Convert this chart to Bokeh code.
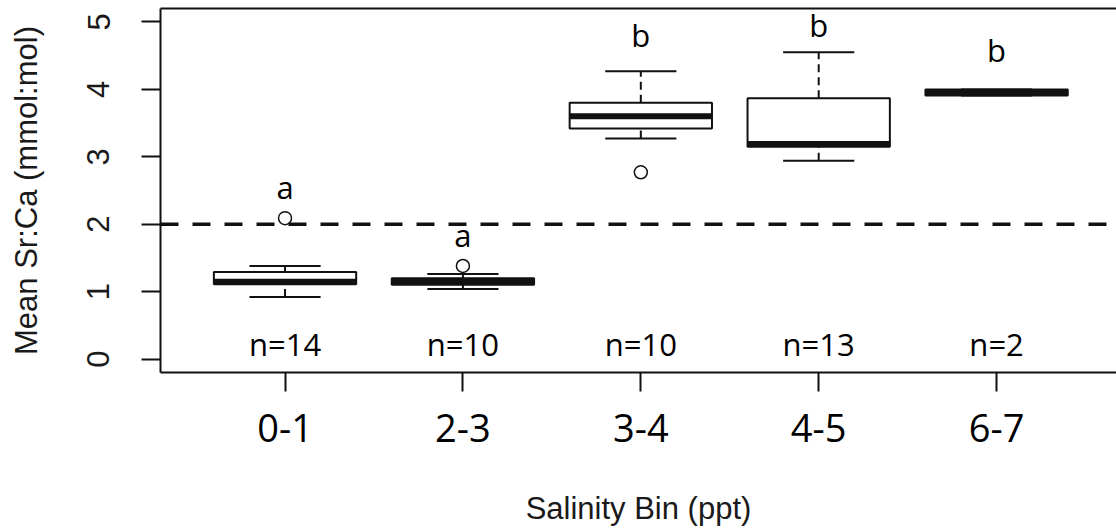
import math
from bokeh.plotting import figure
from bokeh.models import ColumnDataSource, Span, LinearAxis, FixedTicker
from bokeh.core.properties import value
from bokeh.embed import file_html
from bokeh.resources import INLINE

# ---- data ----
bins = ["0-1", "2-3", "3-4", "4-5", "6-7"]
xpos = [1, 2, 3, 4, 5]
lower_whisker = [0.92, 1.04, 3.27, 2.94, 3.91]
q1 = [1.11, 1.10, 3.42, 3.15, 3.91]
median = [1.145, 1.15, 3.60, 3.19, 3.955]
q3 = [1.29, 1.20, 3.80, 3.87, 4.00]
upper_whisker = [1.38, 1.26, 4.27, 4.55, 4.00]
outlier_x = [1, 2, 3]
outlier_y = [2.09, 1.38, 2.77]
n_labels = ["n=14", "n=10", "n=10", "n=13", "n=2"]
n_y = [0.22, 0.22, 0.22, 0.22, 0.22]
group_letters = ["a", "a", "b", "b", "b"]
letter_y = [2.55, 1.84, 4.80, 4.96, 4.58]
threshold = 2.0
y_ticks = [0, 1, 2, 3, 4, 5]

box_half = 0.4
cap_half = 0.2

src = ColumnDataSource(dict(
    x=xpos,
    left=[x - box_half for x in xpos],
    right=[x + box_half for x in xpos],
    cl=[x - cap_half for x in xpos],
    cr=[x + cap_half for x in xpos],
    lw=lower_whisker, q1=q1, med=median, q3=q3, uw=upper_whisker,
    nlab=n_labels, ny=n_y, let=group_letters, ly=letter_y,
))

p = figure(width=1116, height=529, output_backend="svg", toolbar_location=None,
           x_range=(0.3, 5.674), y_range=(-0.2, 5.2),
           min_border_left=160, min_border_right=0, min_border_top=8,
           min_border_bottom=157)
p.outline_line_color = None
p.xgrid.visible = False
p.ygrid.visible = False
p.background_fill_color = "white"
p.border_fill_color = "white"

LINE = "#111111"

# threshold line
p.add_layout(Span(location=threshold, dimension="width", line_color=LINE,
                  line_width=3.5, line_dash="18 14"))

# whiskers
p.segment(x0="x", y0="q3", x1="x", y1="uw", source=src, line_color=LINE,
          line_width=2, line_dash="8 5")
p.segment(x0="x", y0="lw", x1="x", y1="q1", source=src, line_color=LINE,
          line_width=2, line_dash="8 5")
# caps
p.segment(x0="cl", y0="uw", x1="cr", y1="uw", source=src, line_color=LINE, line_width=2)
p.segment(x0="cl", y0="lw", x1="cr", y1="lw", source=src, line_color=LINE, line_width=2)
# boxes
p.quad(left="left", right="right", bottom="q1", top="q3", source=src,
       fill_color="white", line_color=LINE, line_width=2)
# medians
p.segment(x0="left", y0="med", x1="right", y1="med", source=src,
          line_color=LINE, line_width=6, line_cap="butt")
# outliers
p.scatter(outlier_x, outlier_y, marker="circle", size=13, fill_color="white",
          line_color=LINE, line_width=1.5)

# annotations
p.text(x="x", y="ny", text="nlab", source=src, text_font=value("Open Sans"),
       text_font_size="31px", text_align="center", text_baseline="alphabetic",
       text_color="black")
p.text(x="x", y="ly", text="let", source=src, text_font=value("Open Sans"),
       text_font_size="31px", text_align="center", text_baseline="alphabetic",
       text_color="black")

# y axis
ya = p.yaxis[0]
ya.ticker = FixedTicker(ticks=y_ticks)
ya.minor_tick_line_color = None
ya.major_tick_out = 19
ya.major_tick_in = 0
ya.major_tick_line_width = 2
ya.major_tick_line_color = LINE
ya.axis_line_width = 2
ya.axis_line_color = LINE
ya.major_label_orientation = "parallel"
ya.major_label_text_font = "Liberation Sans"
ya.major_label_text_font_size = "31px"
ya.major_label_text_color = "#1a1a1a"
ya.major_label_standoff = 32
ya.axis_label = "Mean Sr:Ca (mmol:mol)"
ya.axis_label_text_font = "Liberation Sans"
ya.axis_label_text_font_size = "31px"
ya.axis_label_text_font_style = "normal"
ya.axis_label_text_color = "#1a1a1a"
ya.axis_label_standoff = 41

# x axis
xa = p.xaxis[0]
xa.ticker = FixedTicker(ticks=xpos)
xa.major_label_overrides = {x: b for x, b in zip(xpos, bins)}
xa.minor_tick_line_color = None
xa.major_tick_out = 19
xa.major_tick_in = 0
xa.major_tick_line_width = 2
xa.major_tick_line_color = LINE
xa.axis_line_width = 2
xa.axis_line_color = LINE
xa.major_label_text_font = "Open Sans"
xa.major_label_text_font_size = "38px"
xa.major_label_text_color = "black"
xa.major_label_standoff = 22
xa.axis_label = "Salinity Bin (ppt)"
xa.axis_label_text_font = "Liberation Sans"
xa.axis_label_text_font_size = "31px"
xa.axis_label_text_font_style = "normal"
xa.axis_label_text_color = "#1a1a1a"
xa.axis_label_standoff = 46

# top frame line
top = LinearAxis(ticker=FixedTicker(ticks=[]), axis_line_width=2, axis_line_color=LINE,
                 major_tick_line_color=None, minor_tick_line_color=None,
                 major_label_text_font_size="0px")
p.add_layout(top, "above")

open("out.html", "w").write(file_html(p, INLINE))
